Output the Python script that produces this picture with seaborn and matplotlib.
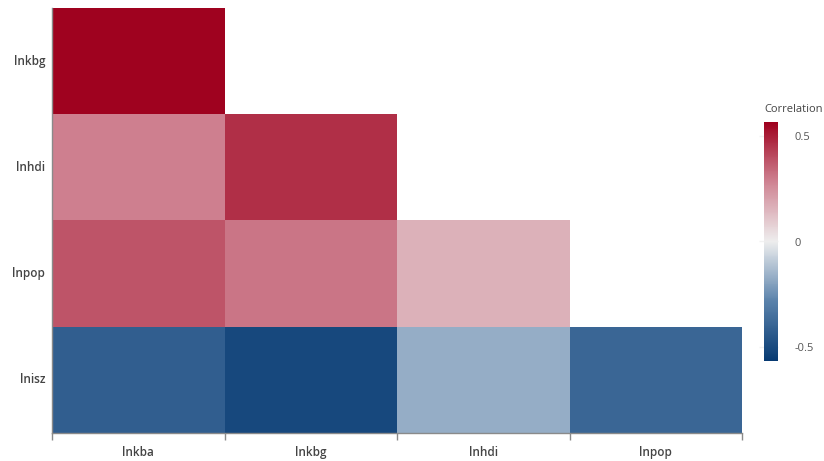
import numpy as np
import pandas as pd
import matplotlib
matplotlib.use("Agg")
import matplotlib.pyplot as plt
import seaborn as sns
from matplotlib.colors import LinearSegmentedColormap

# Data
row_labels = ["lnkbg", "lnhdi", "lnpop", "lnisz"]
col_labels = ["lnkba", "lnkbg", "lnhdi", "lnpop"]
row_lnkbg = [0.56, np.nan, np.nan, np.nan]
row_lnhdi = [0.29, 0.46, np.nan, np.nan]
row_lnpop = [0.38, 0.31, 0.16, np.nan]
row_lnisz = [-0.42, -0.51, -0.17, -0.39]
cbar_ticks = [-0.5, 0, 0.5]
cbar_ticklabels = ["-0.5", "0", "0.5"]

df = pd.DataFrame([row_lnkbg, row_lnhdi, row_lnpop, row_lnisz],
                  index=row_labels, columns=col_labels)

sns.set_style("white")
plt.rcParams['font.family'] = ['Open Sans', 'DejaVu Sans']

cmap = LinearSegmentedColormap.from_list(
    "corr", [(0.0, "#073a72"), (0.25, "#5a82ab"), (0.5, "#eeeeee"),
             (0.75, "#cf8392"), (1.0, "#9e001d")])

fig = plt.figure(figsize=(8.24, 4.61), dpi=100)
ax = fig.add_axes([52/824, 28/461, 690/824, 425/461])
cax = fig.add_axes([764/824, 100/461, 14/824, 239/461])

sns.heatmap(df, ax=ax, cmap=cmap, vmin=-0.565, vmax=0.565, mask=df.isna(),
            cbar_ax=cax, cbar_kws={"ticks": cbar_ticks}, linewidths=0)

ax.set_xlabel("")
ax.set_ylabel("")
for s in ["left", "bottom"]:
    ax.spines[s].set_visible(True)
    ax.spines[s].set_color("#8a8a8a")
    ax.spines[s].set_linewidth(1)
for s in ["top", "right"]:
    ax.spines[s].set_visible(False)

ax.set_xticks(np.arange(len(col_labels)) + 0.5)
ax.set_xticklabels(col_labels, fontsize=8.5, color="#444444", fontweight="semibold")
ax.set_xticks(np.arange(len(col_labels) + 1), minor=True)
ax.tick_params(axis="x", which="major", length=0, pad=9)
ax.tick_params(axis="x", which="minor", length=5, color="#8a8a8a", width=1, bottom=True)
ax.set_yticks(np.arange(len(row_labels)) + 0.5)
ax.set_yticklabels(row_labels, fontsize=8.5, color="#444444", fontweight="semibold", rotation=0)
ax.tick_params(axis="y", which="major", length=0, pad=5)

cbar = ax.collections[0].colorbar
cbar.outline.set_visible(False)
cbar.set_ticks(cbar_ticks)
cbar.set_ticklabels(cbar_ticklabels)
cbar.ax.tick_params(direction="in", length=14, width=1, color="#f2f2f2",
                    labelsize=8, labelcolor="#555555", pad=12)
cbar.ax.set_title("Correlation", fontsize=8, color="#444444", pad=7, loc="left")

fig.savefig("out.png", dpi=100)
